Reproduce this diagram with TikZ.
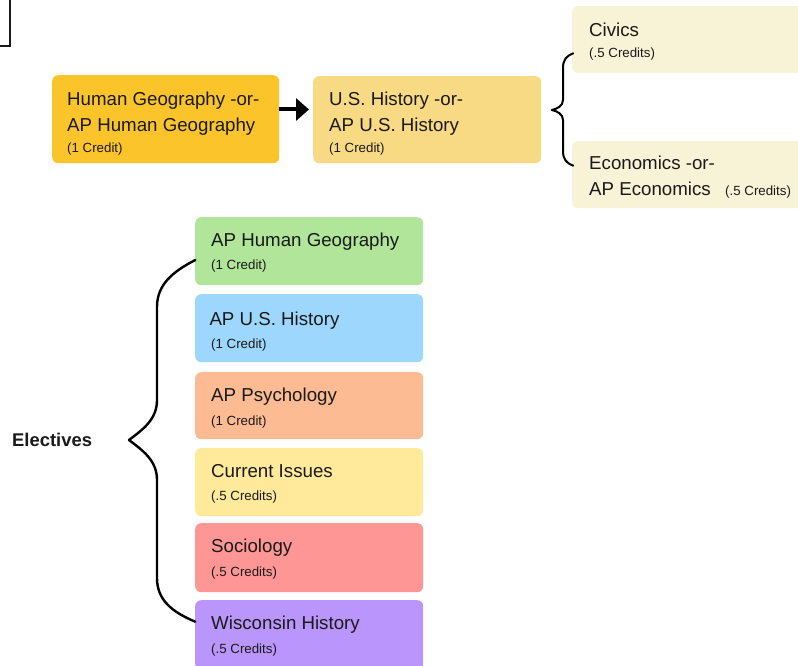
\documentclass[tikz,border=0pt]{standalone}
\usepackage{fontspec}
\setmainfont{Liberation Sans}
\usetikzlibrary{arrows.meta}
\definecolor{cHG}{HTML}{FBC42A}
\definecolor{cUS}{HTML}{F9DA84}
\definecolor{cCiv}{HTML}{F8F2D6}
\definecolor{cGreen}{HTML}{B0E59A}
\definecolor{cBlue}{HTML}{9ED7FD}
\definecolor{cOrange}{HTML}{FCBB92}
\definecolor{cYellow}{HTML}{FFE99B}
\definecolor{cRed}{HTML}{FF9696}
\definecolor{cPurple}{HTML}{B995FC}
\definecolor{ink}{HTML}{1A1A1A}
\tikzset{
  box/.style={rounded corners=6pt, inner sep=0pt, anchor=north west, draw=none},
  tit/.style={anchor=base west, inner sep=0pt, text=ink, font=\fontsize{18.7}{22}\selectfont},
  cred/.style={anchor=base west, inner sep=0pt, text=ink, font=\fontsize{13.3}{16}\selectfont},
  brace/.style={draw=black, line width=2pt, line cap=round, line join=round},
}
\begin{document}
\begin{tikzpicture}[x=1pt,y=-1pt]
\clip (0,0) rectangle (798,666);
\fill[white] (0,0) rectangle (798,666);
% corner fragment
\draw[line width=2pt, draw=ink] (0,46) -- (9.5,46) -- (9.5,-2);

% top row
\node[box, fill=cHG, minimum width=227pt, minimum height=88pt] (hg) at (52,75) {};
\node[tit] (hgA) at (67,105.7) {Human Geography -or-};
\node[tit] (hgB) at (67,131.7) {AP Human Geography};
\node[cred] (hgC) at (67,152.7) {(1 Credit)};

\node[box, fill=cUS, minimum width=228pt, minimum height=87pt] (us) at (313,76) {};
\node[tit] (usA) at (329,105.7) {U.S. History -or-};
\node[tit] (usB) at (329,131.7) {AP U.S. History};
\node[cred] (usC) at (329,152.7) {(1 Credit)};

\draw[line width=4pt, -{Triangle[length=13pt,width=22pt]}] ([yshift=9.7pt]hg.east) -- ([xshift=-4pt,yshift=10.2pt]us.west);

\node[box, fill=cCiv, minimum width=240pt, minimum height=67pt] (civ) at (572,6) {};
\node[tit] (civA) at (589,36.7) {Civics};
\node[cred] (civC) at (589,57.7) {(.5 Credits)};

\node[box, fill=cCiv, minimum width=240pt, minimum height=67pt] (eco) at (572,141) {};
\node[tit] (ecoA) at (589,170) {Economics -or-};
\node[tit] (ecoB) at (589,196) {AP Economics};
\node[cred] (ecoC) at (725,195.7) {(.5 Credits)};

\coordinate (bTop) at (573.3,53.3);
\coordinate (bBot) at (573.3,165.7);
\coordinate (bTip) at (551.7,110);
\draw[brace] (bTop) .. controls (566,56) and (563,60) .. (563,68) -- (563,100)
  .. controls (563,106) and (557,109) .. (bTip)
  .. controls (557,111) and (563,114) .. (563,120) -- (563,151)
  .. controls (563,159) and (566,163) .. (bBot);

% electives
\node[box, fill=cGreen, minimum width=228pt, minimum height=68pt] (e1) at (195,217) {};
\node[tit] (e1A) at (211,246.7) {AP Human Geography};
\node[cred] (e1C) at (211,269.3) {(1 Credit)};

\node[box, fill=cBlue, minimum width=228pt, minimum height=68pt] (e2) at (195,294) {};
\node[tit] (e2A) at (209.3,325) {AP U.S. History};
\node[cred] (e2C) at (211,348.3) {(1 Credit)};

\node[box, fill=cOrange, minimum width=228pt, minimum height=67pt] (e3) at (195,372) {};
\node[tit] (e3A) at (211,401.7) {AP Psychology};
\node[cred] (e3C) at (211,425) {(1 Credit)};

\node[box, fill=cYellow, minimum width=228pt, minimum height=68pt] (e4) at (195,448) {};
\node[tit] (e4A) at (211,477.3) {Current Issues};
\node[cred] (e4C) at (211,500) {(.5 Credits)};

\node[box, fill=cRed, minimum width=228pt, minimum height=69pt] (e5) at (195,523) {};
\node[tit] (e5A) at (211,552.7) {Sociology};
\node[cred] (e5C) at (211,576.7) {(.5 Credits)};

\node[box, fill=cPurple, minimum width=228pt, minimum height=70pt] (e6) at (195,600) {};
\node[tit] (e6A) at (211,629.3) {Wisconsin History};
\node[cred] (e6C) at (211,653.3) {(.5 Credits)};

\node[anchor=base west, inner sep=0pt, text=ink, font=\bfseries\fontsize{18.4}{22}\selectfont] (el) at (12,446.6) {Electives};

\coordinate (eTop) at (195.3,260);
\coordinate (eBot) at (195.3,621.7);
\coordinate (eTip) at (129,440);
\draw[brace, line width=2.4pt] (eTop) .. controls (172,272) and (157,285) .. (157,307) -- (157,400)
  .. controls (157,420) and (142,430) .. (eTip)
  .. controls (142,450) and (157,460) .. (157,480) -- (157,578)
  .. controls (157,600) and (172,612) .. (eBot);
\end{tikzpicture}
\end{document}
